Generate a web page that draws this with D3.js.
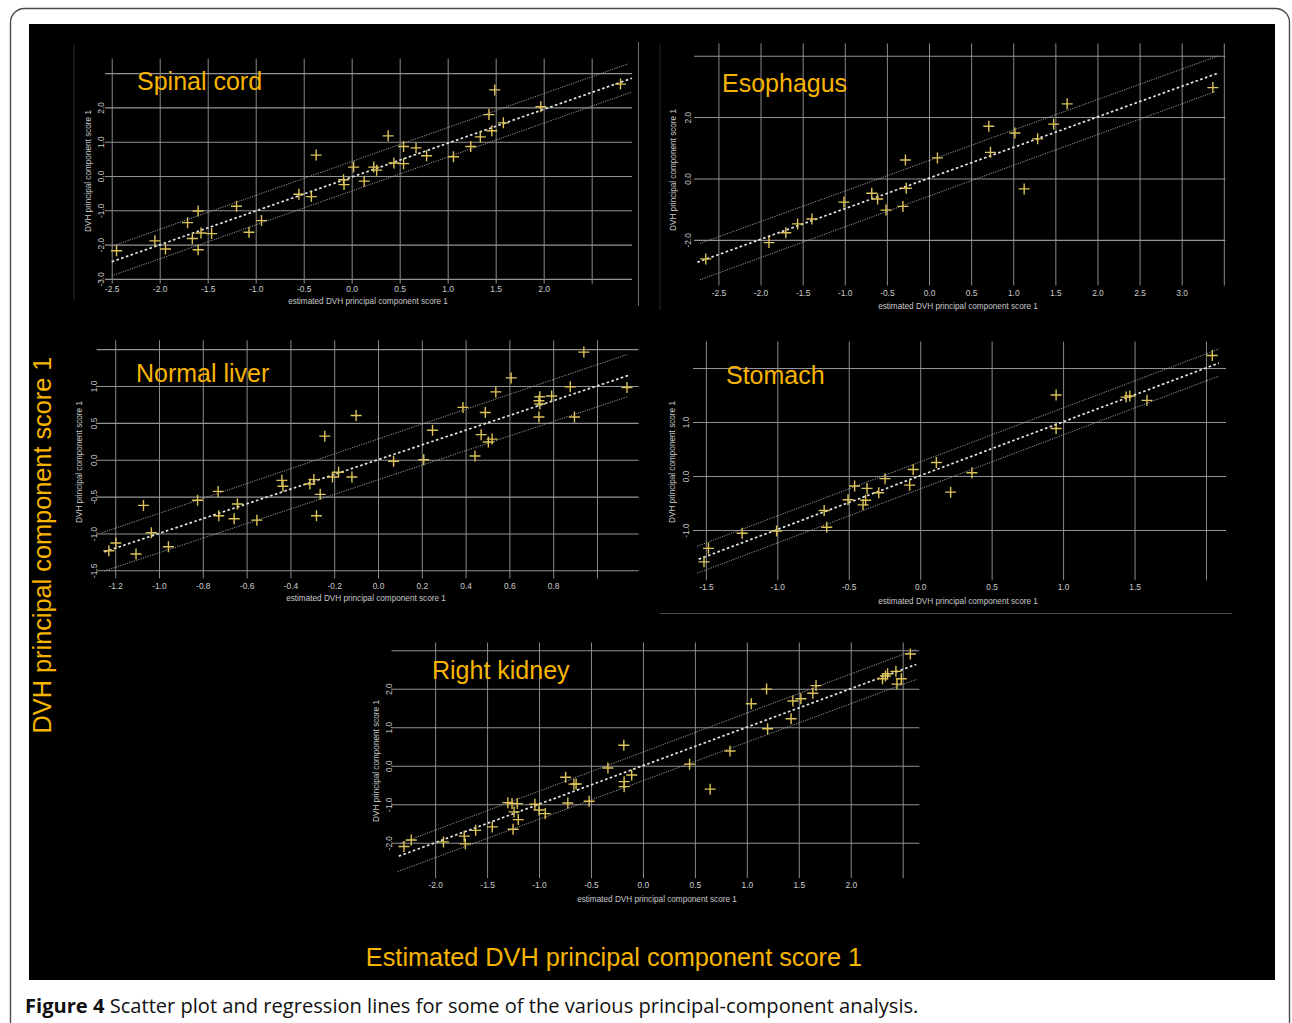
<!DOCTYPE html>
<html><head><meta charset="utf-8">
<script src="https://cdn.jsdelivr.net/npm/d3@7"></script>
<style>body{margin:0;background:#fff}</style>
</head><body><svg id="c" width="1292" height="1023"></svg>
<script>
// ---------------- DATA ----------------
const spinalX = [-2.45,-2.05,-1.94,-1.71,-1.60,-1.66,-1.57,-1.60,-1.46,-1.20,-1.07,-0.94,-0.55,-0.42,-0.37,-0.085,-0.08,0.02,0.13,0.23,0.26,0.38,0.44,0.54,0.54,0.67,0.78,1.06,1.24,1.34,1.43,1.46,1.49,1.58,1.97,2.80];
const spinalY = [-2.18,-1.89,-2.13,-1.36,-1.02,-1.82,-1.66,-2.15,-1.68,-0.88,-1.64,-1.30,-0.53,-0.60,0.61,-0.11,-0.25,0.26,-0.15,0.26,0.17,1.17,0.38,0.36,0.86,0.82,0.59,0.56,0.86,1.14,1.79,1.32,2.51,1.55,2.02,2.68];
const spinalFit = [[-2.5,-2.5],[2.92,2.85]];
const spinalUpper = [[-2.5,-2.05],[2.88,3.27]];
const spinalLower = [[-2.5,-2.91],[2.92,2.45]];
const spinalXGrid = [-2.5,-2.0,-1.5,-1.0,-0.5,0.0,0.5,1.0,1.5,2.0,2.5];
const spinalYGrid = [-3,-2,-1,0,1,2,3];
const spinalXTicks = [-2.5,-2.0,-1.5,-1.0,-0.5,0.0,0.5,1.0,1.5,2.0];
const spinalYTicks = [-3,-2,-1,0,1,2];

const esoX = [-2.65,-1.90,-1.70,-1.56,-1.39,-1.01,-0.68,-0.61,-0.51,-0.31,-0.28,-0.27,0.10,0.71,0.73,1.02,1.13,1.29,1.48,1.64,3.37];
const esoY = [-2.62,-2.09,-1.77,-1.48,-1.32,-0.77,-0.48,-0.67,-1.03,-0.91,0.60,-0.32,0.67,1.70,0.85,1.48,-0.34,1.29,1.77,2.43,2.96];
const esoFit = [[-2.75,-2.73],[3.43,3.43]];
const esoUpper = [[-2.72,-2.12],[3.44,4.0]];
const esoLower = [[-2.72,-3.30],[3.40,2.83]];
const esoXGrid = [-2.5,-2.0,-1.5,-1.0,-0.5,0.0,0.5,1.0,1.5,2.0,2.5,3.0,3.5];
const esoYGrid = [-2,0,2,4];
const esoXTicks = [-2.5,-2.0,-1.5,-1.0,-0.5,0.0,0.5,1.0,1.5,2.0,2.5,3.0];
const esoYTicks = [-2,0,2];

const liverX = [-1.229,-1.197,-1.105,-1.071,-1.035,-0.957,-0.824,-0.730,-0.727,-0.657,-0.642,-0.553,-0.439,-0.434,-0.311,-0.293,-0.264,-0.281,-0.243,-0.208,-0.180,-0.119,-0.100,0.071,0.209,0.249,0.388,0.443,0.471,0.490,0.504,0.521,0.538,0.608,0.735,0.739,0.739,0.735,0.793,0.878,0.897,0.94,1.137];
const liverY = [-1.235,-1.13,-1.28,-0.62,-0.99,-1.18,-0.55,-0.43,-0.76,-0.80,-0.60,-0.82,-0.28,-0.36,-0.33,-0.27,-0.47,-0.76,0.32,-0.235,-0.17,-0.235,0.60,-0.02,0.0,0.40,0.71,0.05,0.34,0.64,0.24,0.28,0.92,1.11,0.80,0.855,0.755,0.58,0.865,0.99,0.58,1.46,0.98];
const liverFit = [[-1.25,-1.25],[1.15,1.15]];
const liverUpper = [[-1.26,-0.99],[1.14,1.43]];
const liverLower = [[-1.25,-1.51],[1.14,0.855]];
const liverXGrid = [-1.2,-1.0,-0.8,-0.6,-0.4,-0.2,0.0,0.2,0.4,0.6,0.8,1.0];
const liverYGrid = [-1.5,-1.0,-0.5,0.0,0.5,1.0,1.5];
const liverXTicks = [-1.2,-1.0,-0.8,-0.6,-0.4,-0.2,0.0,0.2,0.4,0.6,0.8];
const liverYTicks = [-1.5,-1.0,-0.5,0.0,0.5,1.0];

const stomachX = [-1.513,-1.482,-1.246,-1.005,-0.672,-0.654,-0.505,-0.459,-0.40,-0.382,-0.372,-0.29,-0.246,-0.074,-0.049,0.113,0.213,0.362,0.951,0.951,1.441,1.467,1.587,2.044];
const stomachY = [-1.59,-1.34,-1.06,-1.02,-0.64,-0.95,-0.44,-0.185,-0.535,-0.45,-0.23,-0.31,-0.05,-0.17,0.12,0.25,-0.30,0.06,1.50,0.88,1.46,1.48,1.40,2.23];
const stomachFit = [[-1.55,-1.54],[2.09,2.09]];
const stomachUpper = [[-1.56,-1.30],[2.09,2.35]];
const stomachLower = [[-1.56,-1.80],[2.09,1.85]];
const stomachXGrid = [-1.5,-1.0,-0.5,0.0,0.5,1.0,1.5,2.0];
const stomachYGrid = [-1,0,1,2];
const stomachXTicks = [-1.5,-1.0,-0.5,0.0,0.5,1.0,1.5];
const stomachYTicks = [-1,0,1];

const kidneyX = [-2.30,-2.23,-1.92,-1.72,-1.71,-1.61,-1.45,-1.25,-1.30,-1.26,-1.24,-1.21,-1.20,-1.04,-1.00,-0.94,-0.744,-0.723,-0.664,-0.643,-0.518,-0.337,-0.184,-0.181,-0.181,-0.108,0.449,0.647,0.838,1.043,1.19,1.20,1.426,1.443,1.52,1.635,1.666,2.306,2.334,2.355,2.435,2.445,2.487,2.574];
const kidneyY = [-2.10,-1.93,-1.98,-1.83,-2.03,-1.68,-1.59,-1.65,-0.96,-0.98,-1.20,-0.985,-1.40,-1.00,-1.15,-1.245,-0.30,-0.97,-0.48,-0.475,-0.925,-0.06,0.53,-0.415,-0.545,-0.24,0.04,-0.61,0.38,1.61,1.99,0.96,1.22,1.68,1.74,1.88,2.08,2.26,2.33,2.39,2.45,2.12,2.26,2.90];
const kidneyFit = [[-2.35,-2.35],[2.63,2.63]];
const kidneyUpper = [[-2.34,-2.02],[2.63,3.02]];
const kidneyLower = [[-2.36,-2.75],[2.63,2.24]];
const kidneyXGrid = [-2.0,-1.5,-1.0,-0.5,0.0,0.5,1.0,1.5,2.0,2.5];
const kidneyYGrid = [-2,-1,0,1,2,3];
const kidneyXTicks = [-2.0,-1.5,-1.0,-0.5,0.0,0.5,1.0,1.5,2.0];
const kidneyYTicks = [-2,-1,0,1,2];

const panelNames = ["Spinal cord","Esophagus","Normal liver","Stomach","Right kidney"];
const smallXTitle = "estimated DVH principal component score 1";
const smallYTitle = "DVH principal component score 1";
const bigYTitle = "DVH principal component score 1";
const bigXTitle = "Estimated DVH principal component score 1";
const captionBold = "Figure 4";
const captionText = " Scatter plot and regression lines for some of the various principal-component analysis.";

// ---------------- LAYOUT / STYLE ----------------
const FONT = "'Liberation Sans', Arial, Helvetica, sans-serif";
const ORANGE = "#f7b400";
const GRID = "#8a8a8a";
const TICK = "#cccccc";
const PT = "#dcc35a";

const layouts = [
  {xd:[-2.57,2.92], xr:[105,632], yd:[-3.14,3.42], yr:[283.7,58.7], xLabY:289, yLabX:101, xTitle:[368,301], yTitle:[88,171], title:[137,90]},
  {xd:[-2.79,3.52], xr:[694,1225.5], yd:[-3.49,4.4], yr:[285.6,43.4], xLabY:293, yLabX:688, xTitle:[958,306], yTitle:[673,170], title:[722,92]},
  {xd:[-1.285,1.19], xr:[96.6,638.6], yd:[-1.61,1.62], yr:[578.4,340.3], xLabY:586, yLabX:93.5, xTitle:[366,598], yTitle:[79,462], title:[136,382]},
  {xd:[-1.59,2.14], xr:[693,1226], yd:[-1.93,2.49], yr:[580.2,341.5], xLabY:587, yLabX:685.5, xTitle:[958,601], yTitle:[671.5,462], title:[726,384]},
  {xd:[-2.42,2.66], xr:[391.5,919.3], yd:[-2.92,3.2], yr:[878.1,642.5], xLabY:885, yLabX:389, xTitle:[657,899], yTitle:[375.5,761], title:[432,679]}
];

const panels = [
  {xs:spinalX, ys:spinalY, fit:spinalFit, up:spinalUpper, lo:spinalLower, xg:spinalXGrid, yg:spinalYGrid, xt:spinalXTicks, yt:spinalYTicks},
  {xs:esoX, ys:esoY, fit:esoFit, up:esoUpper, lo:esoLower, xg:esoXGrid, yg:esoYGrid, xt:esoXTicks, yt:esoYTicks},
  {xs:liverX, ys:liverY, fit:liverFit, up:liverUpper, lo:liverLower, xg:liverXGrid, yg:liverYGrid, xt:liverXTicks, yt:liverYTicks},
  {xs:stomachX, ys:stomachY, fit:stomachFit, up:stomachUpper, lo:stomachLower, xg:stomachXGrid, yg:stomachYGrid, xt:stomachXTicks, yt:stomachYTicks},
  {xs:kidneyX, ys:kidneyY, fit:kidneyFit, up:kidneyUpper, lo:kidneyLower, xg:kidneyXGrid, yg:kidneyYGrid, xt:kidneyXTicks, yt:kidneyYTicks}
];

const fmt = d => d.toFixed(1);
const svg = d3.select("#c");

// frame
svg.append("rect").attr("x",10.5).attr("y",8.5).attr("width",1279).attr("height",1040).attr("rx",14)
  .attr("fill","#fff").attr("stroke","#4a4a4a").attr("stroke-width",1.4);
svg.append("rect").attr("x",29).attr("y",24).attr("width",1246).attr("height",956).attr("fill","#000");

// faint borders of embedded plots
const borders = [[74,45,74,300,"#2e2e2e"],[638.5,42,638.5,306,"#6a6a6a"],[660,45,660,310,"#262626"],[660,613.5,1232,613.5,"#4a4a4a"]];
svg.append("g").selectAll("line").data(borders).join("line")
  .attr("x1",d=>d[0]).attr("y1",d=>d[1]).attr("x2",d=>d[2]).attr("y2",d=>d[3])
  .attr("stroke",d=>d[4]).attr("stroke-width",1);

panels.forEach((p,i)=>{
  const L = layouts[i];
  const x = d3.scaleLinear().domain(L.xd).range(L.xr);
  const y = d3.scaleLinear().domain(L.yd).range(L.yr);
  const g = svg.append("g");

  // vertical grid
  g.append("g").attr("transform",`translate(0,${L.yr[0]})`)
    .call(d3.axisBottom(x).tickValues(p.xg).tickSize(-(L.yr[0]-L.yr[1])).tickFormat(""))
    .call(a=>a.select(".domain").remove())
    .selectAll("line").attr("stroke",GRID).attr("stroke-width",1);
  // horizontal grid
  g.append("g").attr("transform",`translate(${L.xr[0]},0)`)
    .call(d3.axisLeft(y).tickValues(p.yg).tickSize(-(L.xr[1]-L.xr[0])).tickFormat(""))
    .call(a=>a.select(".domain").remove())
    .selectAll("line").attr("stroke","#939393").attr("stroke-width",1.1);

  const line = d3.line().x(d=>x(d[0])).y(d=>y(d[1]));
  g.append("path").attr("d",line(p.up)).attr("fill","none").attr("stroke","#a8a8a8").attr("stroke-width",0.9).attr("stroke-dasharray","1.2,1.2");
  g.append("path").attr("d",line(p.lo)).attr("fill","none").attr("stroke","#a8a8a8").attr("stroke-width",0.9).attr("stroke-dasharray","1.2,1.2");
  g.append("path").attr("d",line(p.fit)).attr("fill","none").attr("stroke","#e6e6e6").attr("stroke-width",1.7).attr("stroke-dasharray","2.6,2.4");

  // points (+)
  g.append("g").selectAll("path").data(d3.range(p.xs.length)).join("path")
    .attr("d", k=>{const cx=x(p.xs[k]), cy=y(p.ys[k]); return `M${cx-5.5},${cy}H${cx+5.5}M${cx},${cy-5.5}V${cy+5.5}`;})
    .attr("stroke",PT).attr("stroke-width",1.4).attr("fill","none");

  // x tick labels
  const xa = g.append("g").attr("transform",`translate(0,${L.xLabY})`)
    .call(d3.axisBottom(x).tickValues(p.xt).tickSize(0).tickPadding(0).tickFormat(fmt));
  xa.select(".domain").remove();
  xa.attr("font-size",8.4).attr("font-family",FONT);
  xa.selectAll("text").attr("y",0).attr("dy","0.35em").attr("fill",TICK);

  // y tick labels (rotated)
  const ya = g.append("g").attr("transform",`translate(${L.yLabX+3},0)`)
    .call(d3.axisLeft(y).tickValues(p.yt).tickSize(0).tickPadding(0).tickFormat(fmt));
  ya.select(".domain").remove();
  ya.attr("font-size",8.4).attr("font-family",FONT);
  ya.selectAll("text").attr("x",0).attr("dy",0).attr("text-anchor","middle").attr("transform","rotate(-90)").attr("fill",TICK);

  // small axis titles
  g.append("text").attr("x",L.xTitle[0]).attr("y",L.xTitle[1]).attr("dy","0.35em").attr("text-anchor","middle")
    .attr("font-family",FONT).attr("font-size",8.2).attr("fill","#c8c8c8").text(smallXTitle);
  g.append("text").attr("transform",`translate(${L.yTitle[0]+3},${L.yTitle[1]}) rotate(-90)`).attr("text-anchor","middle")
    .attr("font-family",FONT).attr("font-size",8.2).attr("fill","#c8c8c8").text(smallYTitle);

  // panel title
  g.append("text").attr("x",L.title[0]).attr("y",L.title[1]).attr("font-family",FONT).attr("font-size",25)
    .attr("fill",ORANGE).text(panelNames[i]);
});

// big titles
svg.append("text").attr("transform","translate(51,545) rotate(-90)").attr("text-anchor","middle")
  .attr("font-family",FONT).attr("font-size",25.3).attr("fill",ORANGE).text(bigYTitle);
svg.append("text").attr("x",614).attr("y",966).attr("text-anchor","middle")
  .attr("font-family",FONT).attr("font-size",25.3).attr("fill",ORANGE).text(bigXTitle);

// caption
const cap = svg.append("text").attr("x",25).attr("y",1013).attr("font-family","'Open Sans', sans-serif").attr("font-size",20.1).attr("fill","#111");
cap.append("tspan").attr("font-weight","bold").text(captionBold);
cap.append("tspan").text(captionText);
</script>
</body></html>
